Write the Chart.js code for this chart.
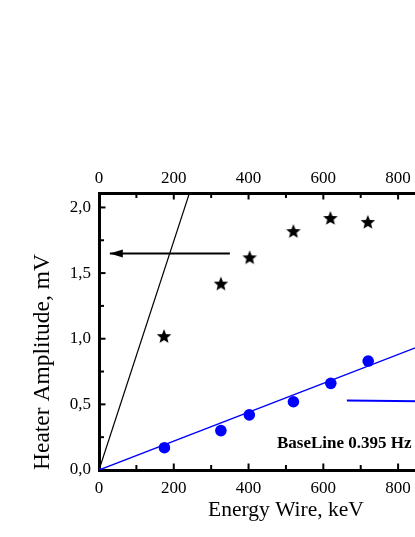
<!DOCTYPE html>
<html><head><meta charset="utf-8">
<script src="https://cdn.jsdelivr.net/npm/chart.js@4/dist/chart.umd.min.js"></script>
<style>html,body{margin:0;padding:0;background:#fff;overflow:hidden;width:415px;height:537px}canvas{display:block}</style>
</head><body>
<canvas id="c" width="500" height="537"></canvas>
<script>
// ---- data ----
const energyStars = [174, 326, 403, 520, 619, 719];
const amplitudeStars = [1.02, 1.42, 1.62, 1.82, 1.92, 1.89];
const energyCircles = [175, 326, 402, 520, 620, 720];
const amplitudeCircles = [0.17, 0.30, 0.42, 0.52, 0.66, 0.83];
const blueFitX = [0, 1000];
const blueFitY = [0, 1.10];
const blackFitX = [0, 250];
const blackFitY = [0, 2.18];
const blackArrowX = [29, 350];
const blackArrowY = [1.65, 1.65];
const blueArrowX = [663, 985];
const blueArrowY = [0.53, 0.52];
const xRange = [0, 1000];
const yRange = [0, 2.11];
const xMajorStep = 200, xMinorStep = 100;
const yMajorStep = 0.5, yMinorStep = 0.25;
const annotationText = 'BaseLine 0.395 Hz';
const annotationPos = [476, 0.198];
const xTitle = 'Energy Wire, keV';
const yTitle = 'Heater Amplitude, mV';

const pts = (xs, ys) => xs.map((x, i) => ({x, y: ys[i]}));
const serif = '"Liberation Serif", "Times New Roman", serif';

function makeStar(r) {
  const c = document.createElement('canvas');
  const s = Math.ceil(r * 2 + 2);
  c.width = s; c.height = s;
  const g = c.getContext('2d');
  g.fillStyle = '#000';
  g.beginPath();
  for (let i = 0; i < 10; i++) {
    const rr = i % 2 ? r * 0.44 : r;
    const a = -Math.PI / 2 + i * Math.PI / 5;
    g.lineTo(s / 2 + rr * Math.cos(a), s / 2 + 0.7 + rr * Math.sin(a));
  }
  g.closePath(); g.fill();
  return c;
}
const starImg = makeStar(7.6);

const fmt = v => Number(v).toFixed(1).replace('.', ',');

const inTicks = {
  id: 'inTicks',
  afterDraw(chart) {
    const ctx = chart.ctx, a = chart.chartArea;
    const sx = chart.scales.x, sy = chart.scales.y;
    ctx.save();
    ctx.strokeStyle = '#000'; ctx.lineWidth = 2;
    const seg = (x1, y1, x2, y2) => { ctx.beginPath(); ctx.moveTo(x1, y1); ctx.lineTo(x2, y2); ctx.stroke(); };
    for (let v = xRange[0] + xMinorStep; v < xRange[1]; v += xMinorStep) {
      const px = sx.getPixelForValue(v);
      const L = (Math.round(v) % xMajorStep === 0) ? 6.5 : 5;
      seg(px, a.bottom, px, a.bottom - L);
      seg(px, a.top, px, a.top + L);
    }
    for (let v = yRange[0] + yMinorStep; v < yRange[1]; v += yMinorStep) {
      const py = sy.getPixelForValue(v);
      const L = (Math.abs(v / yMajorStep - Math.round(v / yMajorStep)) < 1e-6) ? 6.5 : 5;
      seg(a.left, py, a.left + L, py);
    }
    ctx.restore();
  }
};

const extras = {
  id: 'extras',
  afterDatasetsDraw(chart) {
    const ctx = chart.ctx;
    const sx = chart.scales.x, sy = chart.scales.y;
    ctx.save();
    // black arrowhead at the tip (first point), pointing left
    const bm = chart.getDatasetMeta(4).data[0];
    ctx.fillStyle = '#000';
    ctx.beginPath();
    ctx.moveTo(bm.x, bm.y); ctx.lineTo(bm.x + 13, bm.y - 4); ctx.lineTo(bm.x + 13, bm.y + 4); ctx.closePath(); ctx.fill();
    // blue arrowhead at last point, pointing right
    const um = chart.getDatasetMeta(5).data[1];
    ctx.fillStyle = '#0000ff';
    ctx.beginPath();
    ctx.moveTo(um.x, um.y); ctx.lineTo(um.x - 13, um.y - 4); ctx.lineTo(um.x - 13, um.y + 4); ctx.closePath(); ctx.fill();
    // annotation
    ctx.fillStyle = '#000';
    ctx.font = 'bold 17px ' + serif;
    ctx.textAlign = 'left'; ctx.textBaseline = 'middle';
    ctx.fillText(annotationText, sx.getPixelForValue(annotationPos[0]), sy.getPixelForValue(annotationPos[1]));
    ctx.restore();
  }
};

const xTickOpts = {
  stepSize: xMajorStep, includeBounds: false, color: '#000', maxRotation: 0, autoSkip: false,
  font: {family: serif, size: 17}
};

new Chart(document.getElementById('c'), {
  type: 'scatter',
  data: {
    datasets: [
      {data: pts(energyStars, amplitudeStars), pointStyle: starImg, pointRadius: 8, showLine: false, xAxisID: 'x', yAxisID: 'y'},
      {data: pts(energyCircles, amplitudeCircles), pointStyle: 'circle', pointRadius: 5.8, backgroundColor: '#0000ff', borderWidth: 0, showLine: false},
      {data: pts(blueFitX, blueFitY), showLine: true, borderColor: '#0000ff', borderWidth: 1.4, pointRadius: [2.5, 0], pointStyle: 'rect', backgroundColor: '#0000ff', pointBorderWidth: 0},
      {data: pts(blackFitX, blackFitY), showLine: true, borderColor: '#000', borderWidth: 1.2, pointRadius: 0},
      {data: pts(blackArrowX, blackArrowY), showLine: true, borderColor: '#000', borderWidth: 2, pointRadius: 0},
      {data: pts(blueArrowX, blueArrowY), showLine: true, borderColor: '#0000ff', borderWidth: 2, pointRadius: 0}
    ]
  },
  options: {
    responsive: false, animation: false,
    layout: {padding: 0},
    plugins: {legend: {display: false}, tooltip: {enabled: false}},
    scales: {
      x: {
        type: 'linear', position: 'bottom', min: xRange[0], max: xRange[1],
        grid: {display: false, drawTicks: false, tickLength: 0},
        border: {display: true, color: '#000', width: 3},
        ticks: Object.assign({padding: 8}, xTickOpts),
        title: {display: true, text: xTitle, color: '#000', font: {family: serif, size: 21.5}, padding: {top: 0, bottom: 14}},
        afterFit: s => { s.height = 67; }
      },
      x2: {
        type: 'linear', position: 'top', min: xRange[0], max: xRange[1],
        grid: {display: false, drawTicks: false, tickLength: 0},
        border: {display: true, color: '#000', width: 3},
        ticks: Object.assign({padding: 4}, xTickOpts),
        afterFit: s => { s.height = 193; }
      },
      y: {
        type: 'linear', position: 'left', min: yRange[0], max: yRange[1],
        grid: {display: false, drawTicks: false, tickLength: 0},
        border: {display: true, color: '#000', width: 3},
        ticks: {stepSize: yMajorStep, includeBounds: false, color: '#000', padding: 8, font: {family: serif, size: 17}, callback: v => fmt(v)},
        title: {display: true, text: yTitle, align: 'start', color: '#000', font: {family: serif, size: 23.5}, padding: {top: 29, bottom: 0}},
        afterFit: s => { s.width = 99; }
      },
      y2: {
        type: 'linear', position: 'right', min: yRange[0], max: yRange[1],
        grid: {display: false, drawTicks: false, tickLength: 0},
        border: {display: true, color: '#000', width: 3},
        ticks: {display: false},
        afterFit: s => { s.width = 22.5; }
      }
    }
  },
  plugins: [inTicks, extras]
});
</script>
</body></html>
